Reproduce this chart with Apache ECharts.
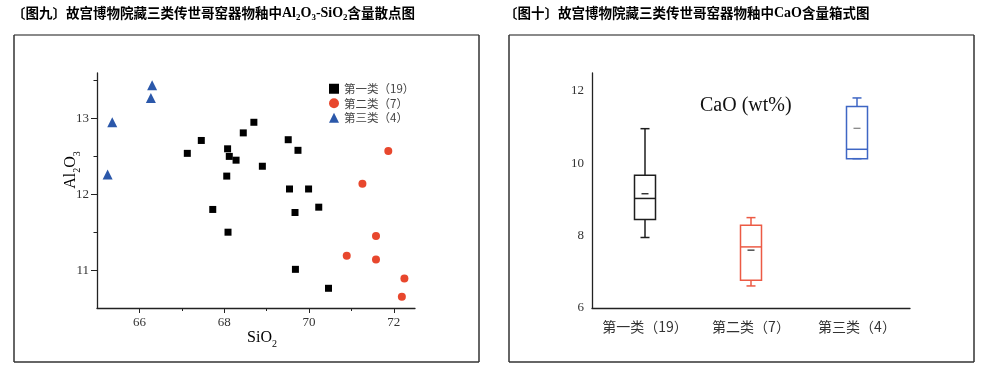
<!DOCTYPE html>
<html><head><meta charset="utf-8">
<script src="https://cdn.jsdelivr.net/npm/echarts/dist/echarts.min.js"></script>
<style>html,body{margin:0;padding:0;background:#fff}#c{width:986px;height:369px}</style>
</head><body><div id="c"></div>
<script>
// ---- Scatter data (Fig. 9) ----
const siO2_1 = [67.13,67.46,68.08,68.12,68.28,68.45,68.70,68.06,68.90,67.73,68.09,69.51,69.74,69.54,69.99,69.67,70.23,69.68,70.46];
const al2O3_1 = [12.54,12.71,12.60,12.50,12.45,12.81,12.95,12.24,12.37,11.80,11.50,12.72,12.58,12.07,12.07,11.76,11.83,11.01,10.76];
const siO2_2 = [71.87,71.26,71.58,70.89,71.58,72.25,72.19];
const al2O3_2 = [12.57,12.14,11.45,11.19,11.14,10.89,10.65];
const siO2_3 = [66.30,66.27,65.36,65.25];
const al2O3_3 = [13.44,13.27,12.95,12.26];
const seriesNames = ['第一类（19）','第二类（7）','第三类（4）'];
const xMajor = [66,68,70,72];
const xMinor = [67,69,71];
const yMajor = [11,12,13];
const yMinor = [11.5,12.5,13.5];

// ---- Box data (Fig. 10) ----
const categories = ['第一类（19）','第二类（7）','第三类（4）'];
const caoMin = [7.95, 6.61, 10.13];
const caoQ1 = [8.45, 6.77, 10.13];
const caoMedian = [9.03, 7.69, 10.39];
const caoQ3 = [9.67, 8.29, 11.57];
const caoMax = [10.96, 8.50, 11.81];
const caoMean = [9.16, 7.60, 10.97];
const cMajor = [6,8,10,12];
const cMinor = [7,9,11];

const serif = '"Liberation Serif","DejaVu Serif",serif';
const cjk = '"Noto Sans CJK SC",sans-serif';
const boxColors = ['#1e1e1e','#ec5a44','#3e66c4'];
const meanColors = ['#1e1e1e','#333333','#888888'];

const zip = (a,b) => a.map((v,i)=>[v,b[i]]);
const boxRows = categories.map((c,i)=>[i, caoMin[i], caoQ1[i], caoMedian[i], caoQ3[i], caoMax[i], caoMean[i]]);

const axisCol = '#222';
function majorAxis(extra){
  return Object.assign({
    type:'value', splitLine:{show:false},
    axisLine:{show:true,onZero:false,lineStyle:{color:axisCol,width:1.3}},
    axisLabel:{fontFamily:serif,fontSize:13,color:'#333'}
  }, extra);
}
function minorAxis(extra){
  return Object.assign({
    type:'value', splitLine:{show:false},
    axisLine:{show:false,onZero:false},
    axisLabel:{show:false}
  }, extra);
}

const chart = echarts.init(document.getElementById('c'));
const subRich = {
  n:{fontFamily:cjk,fontSize:13.5,fontWeight:'bold',color:'#222',lineHeight:16,verticalAlign:'middle'},
  l:{fontFamily:serif,fontSize:14,fontWeight:'bold',color:'#222',lineHeight:16,verticalAlign:'middle'},
  s:{fontFamily:serif,fontSize:9,fontWeight:'bold',color:'#222',lineHeight:19,verticalAlign:'bottom'}
};
const axRich = {
  l:{fontFamily:serif,fontSize:16,color:'#222',lineHeight:18,verticalAlign:'middle'},
  s:{fontFamily:serif,fontSize:10,color:'#222',lineHeight:22,verticalAlign:'bottom'}
};
function frame(x1,y1,x2,y2){
  return [
    {type:'line',shape:{x1:x1,y1:y1,x2:x2,y2:y1},style:{stroke:'#8a8a8a',lineWidth:2}},
    {type:'line',shape:{x1:x1,y1:y1,x2:x1,y2:y2},style:{stroke:'#333',lineWidth:1.5}},
    {type:'line',shape:{x1:x2,y1:y1,x2:x2,y2:y2},style:{stroke:'#333',lineWidth:1.5}},
    {type:'line',shape:{x1:x1,y1:y2,x2:x2,y2:y2},style:{stroke:'#333',lineWidth:1.5}}
  ];
}

chart.setOption({
  backgroundColor:'#fff',
  animation:false,
  grid:[
    {left:97,top:73,width:318,height:235},
    {left:592,top:73,width:318,height:235}
  ],
  legend:{
    orient:'vertical', left:324, top:78, itemGap:3, itemWidth:10, itemHeight:10,
    textStyle:{fontFamily:cjk,fontSize:11.5,color:'#444'},
    data:seriesNames
  },
  xAxis:[
    majorAxis({gridIndex:0,min:65,max:72.5,axisTick:{customValues:xMajor,length:5,lineStyle:{color:axisCol}},axisLabel:{customValues:xMajor,fontFamily:serif,fontSize:13,color:'#333',margin:8}}),
    minorAxis({gridIndex:0,min:65,max:72.5,position:'bottom',axisTick:{customValues:xMinor,length:3,lineStyle:{color:axisCol}}}),
    {type:'category',gridIndex:1,data:categories,
     axisLine:{show:true,onZero:false,lineStyle:{color:axisCol,width:1.3}},
     axisTick:{alignWithLabel:true,length:5,lineStyle:{color:axisCol}},
     axisLabel:{interval:0,hideOverlap:false,fontFamily:cjk,fontSize:14,color:'#333',margin:12}}
  ],
  yAxis:[
    majorAxis({gridIndex:0,min:10.5,max:13.6,axisTick:{customValues:yMajor,length:6,lineStyle:{color:axisCol}},axisLabel:{customValues:yMajor,fontFamily:serif,fontSize:13,color:'#333',margin:8}}),
    minorAxis({gridIndex:0,min:10.5,max:13.6,position:'left',axisTick:{customValues:yMinor,length:3.5,lineStyle:{color:axisCol}}}),
    majorAxis({gridIndex:1,min:6,max:12.5,axisTick:{customValues:cMajor,length:5,lineStyle:{color:axisCol}},axisLabel:{customValues:cMajor,fontFamily:serif,fontSize:13,color:'#333',margin:8}}),
    minorAxis({gridIndex:1,min:6,max:12.5,position:'left',axisTick:{customValues:cMinor,length:3,lineStyle:{color:axisCol}}})
  ],
  graphic:[].concat(frame(14,35,479,362), frame(509,35,974,362), [
    {type:'text',x:12,y:13,style:{text:'{n|〔图九〕故宫博物院藏三类传世哥窑器物釉中}{l|Al}{s|2}{l|O}{s|3}{l|-SiO}{s|2}{n|含量散点图}',rich:subRich,align:'left',verticalAlign:'middle'}},
    {type:'text',x:504,y:13,style:{text:'{n|〔图十〕故宫博物院藏三类传世哥窑器物釉中}{l|CaO}{n|含量箱式图}',rich:subRich,align:'left',verticalAlign:'middle'}},
    {type:'text',x:71,y:170,rotation:Math.PI/2,style:{text:'{l|Al}{s|2}{l|O}{s|3}',rich:axRich,align:'center',verticalAlign:'middle'}},
    {type:'text',x:262,y:338,style:{text:'{l|SiO}{s|2}',rich:axRich,align:'center',verticalAlign:'middle'}},
    {type:'text',x:700,y:106,style:{text:'CaO (wt%)',fontFamily:serif,fontSize:20,fill:'#111',align:'left',verticalAlign:'middle'}}
  ]),
  series:[
    {name:seriesNames[0],type:'scatter',xAxisIndex:0,yAxisIndex:0,symbol:'rect',symbolSize:7,itemStyle:{color:'#000',opacity:1},data:zip(siO2_1,al2O3_1)},
    {name:seriesNames[1],type:'scatter',xAxisIndex:0,yAxisIndex:0,symbol:'circle',symbolSize:8,itemStyle:{color:'#e8472d',opacity:1},data:zip(siO2_2,al2O3_2)},
    {name:seriesNames[2],type:'scatter',xAxisIndex:0,yAxisIndex:0,symbol:'triangle',symbolSize:10,itemStyle:{color:'#2b58aa',opacity:1},data:zip(siO2_3,al2O3_3)},
    {type:'custom',xAxisIndex:2,yAxisIndex:2,encode:{x:0,y:[1,2,3,4,5,6]},data:boxRows,
     renderItem:function(params,api){
       const i = api.value(0);
       const c = v => api.coord([i, v]);
       const pMin=c(api.value(1)), pQ1=c(api.value(2)), pMed=c(api.value(3)), pQ3=c(api.value(4)), pMax=c(api.value(5)), pMean=c(api.value(6));
       const cx = pMin[0], bw = 21, cw = 9, mw = 7;
       const col = boxColors[i];
       const ls = {stroke:col,lineWidth:1.5,fill:null};
       const L = (x1,y1,x2,y2,s) => ({type:'line',shape:{x1,y1,x2,y2},style:s||ls});
       return {type:'group',children:[
         {type:'rect',shape:{x:cx-bw/2,y:pQ3[1],width:bw,height:pQ1[1]-pQ3[1]},style:{stroke:col,lineWidth:1.5,fill:'rgba(0,0,0,0)'}},
         L(cx-bw/2,pMed[1],cx+bw/2,pMed[1]),
         L(cx,pQ3[1],cx,pMax[1]),
         L(cx-cw/2,pMax[1],cx+cw/2,pMax[1]),
         L(cx,pQ1[1],cx,pMin[1]),
         L(cx-cw/2,pMin[1],cx+cw/2,pMin[1]),
         L(cx-mw/2,pMean[1],cx+mw/2,pMean[1],{stroke:meanColors[i],lineWidth:1.3})
       ]};
     }}
  ]
});
</script></body></html>
